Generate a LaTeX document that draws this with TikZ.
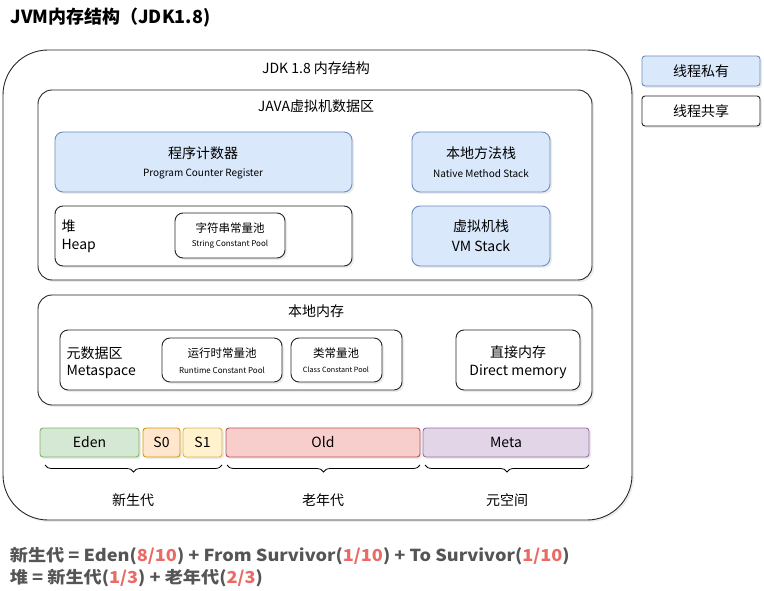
\documentclass[tikz,border=0pt]{standalone}
\usepackage{fontspec}
\setmainfont{Noto Sans CJK SC}
\usetikzlibrary{shadows,decorations.pathreplacing}
\definecolor{blueF}{HTML}{DAE8FC}\definecolor{blueD}{HTML}{6C8EBF}
\definecolor{grF}{HTML}{D5E8D4}\definecolor{grD}{HTML}{82B366}
\definecolor{orF}{HTML}{FFE6CC}\definecolor{orD}{HTML}{D79B00}
\definecolor{yeF}{HTML}{FFF2CC}\definecolor{yeD}{HTML}{D6B656}
\definecolor{reF}{HTML}{F8CECC}\definecolor{reD}{HTML}{B85450}
\definecolor{puF}{HTML}{E1D5E7}\definecolor{puD}{HTML}{9673A6}
\definecolor{txt}{HTML}{555555}\definecolor{hl}{HTML}{EA6B66}
\begin{document}
\begin{tikzpicture}[x=1pt,y=-1pt,
 box/.style={draw=black!85,line width=0.9pt,rounded corners=#1,fill=white,drop shadow={opacity=0.15,shadow xshift=2pt,shadow yshift=-2pt}},
 box/.default=8pt,
 bl/.style={box,fill=blueF,draw=blueD},
 bar/.style={rounded corners=3pt,line width=0.9pt,drop shadow={opacity=0.15,shadow xshift=2pt,shadow yshift=-2pt}},
 brc/.style={decorate,decoration={brace,mirror,amplitude=7pt},line width=0.8pt},
 t/.style={font=\fontsize{14}{16}\selectfont},
 s/.style={font=\fontsize{10}{12}\selectfont},
 fm/.style={anchor=west,font=\fontsize{16.5}{18}\selectfont\bfseries,text=txt,xscale=1.1}]
\useasboundingbox (0,0) rectangle (764,591);
\node[anchor=west,font=\fontsize{18}{20}\selectfont\bfseries] (title) at (7,18) {JVM内存结构（JDK1.8)};
\draw[box=45pt] (3,50) rectangle (632,520);
\node[t] (jdk) at (316,68) {JDK 1.8 内存结构};
\draw[box=14pt] (38,90) rectangle (592,280);
\node[t] (java) at (316,106) {JAVA虚拟机数据区};
\draw[bl] (55,132) rectangle (352,192);
\node[t] (pc) at (203,153) {程序计数器};
\node[s] (pce) at (203,174) {Program Counter Register};
\draw[bl] (412,132) rectangle (550,192);
\node[t] (nm) at (481,153) {本地方法栈};
\node[s] (nme) at (481,174) {Native Method Stack};
\draw[box] (55,206) rectangle (352,266);
\node[t,anchor=west] (heap) at (58,226) {堆};
\node[t,anchor=west] (heape) at (58,246) {Heap};
\draw[box] (175,213) rectangle (285,258);
\node[font=\fontsize{11.5}{13}\selectfont] (sp) at (230,228) {字符串常量池};
\node[font=\fontsize{8}{10}\selectfont] (spe) at (230,244) {String Constant Pool};
\draw[bl] (412,206) rectangle (550,266);
\node[t] (vm) at (481,226) {虚拟机栈};
\node[t] (vme) at (481,246) {VM Stack};
\draw[box=14pt] (38,295) rectangle (592,405);
\node[t] (nat) at (316,311) {本地内存};
\draw[box] (60,330) rectangle (402,390);
\node[t,anchor=west] (ms) at (63,353) {元数据区};
\node[t,anchor=west] (mse) at (63,372) {Metaspace};
\draw[box] (162,338) rectangle (282,382);
\node[font=\fontsize{11.5}{13}\selectfont] (rp) at (222,353) {运行时常量池};
\node[font=\fontsize{8}{10}\selectfont] (rpe) at (222,370) {Runtime Constant Pool};
\draw[box] (291,338) rectangle (382,382);
\node[font=\fontsize{11.5}{13}\selectfont] (cp) at (336,353) {类常量池};
\node[font=\fontsize{7.2}{9}\selectfont] (cpe) at (336,370) {Class Constant Pool};
\draw[box] (456,330) rectangle (580,390);
\node[t] (dm) at (518,352) {直接内存};
\node[t] (dme) at (518,372) {Direct memory};
\draw[bar,fill=grF,draw=grD] (40,428) rectangle (139,457);
\node[t] (eden) at (89.5,442.5) {Eden};
\draw[bar,fill=orF,draw=orD] (143,428) rectangle (180,457);
\node[t] (s0) at (161.5,442.5) {S0};
\draw[bar,fill=yeF,draw=yeD] (183,428) rectangle (222,457);
\node[t] (s1) at (202.5,442.5) {S1};
\draw[bar,fill=reF,draw=reD] (226,428) rectangle (420,457);
\node[t] (old) at (323,442.5) {Old};
\draw[bar,fill=puF,draw=puD] (423,428) rectangle (589,457);
\node[t] (meta) at (506,442.5) {Meta};
\draw[brc] (45,465) -- (222,465);
\draw[brc] (227,465) -- (420,465);
\draw[brc] (425,465) -- (589,465);
\node[t] (yg) at (133,500) {新生代};
\node[t] (og) at (323,500) {老年代};
\node[t] (mg) at (507,500) {元空间};
\draw[bl,rounded corners=3pt] (642,56) rectangle (760,86);
\node[t] (lp) at (701,71) {线程私有};
\draw[box,rounded corners=3pt] (642,96) rectangle (760,126);
\node[t] (ls) at (701,111) {线程共享};
\node[fm] (f1) at (6,556) {新生代 = Eden(\textcolor{hl}{8/10}) + From Survivor(\textcolor{hl}{1/10}) + To Survivor(\textcolor{hl}{1/10})};
\node[fm] (f2) at (6,578) {堆 = 新生代(\textcolor{hl}{1/3}) + 老年代(\textcolor{hl}{2/3})};
\end{tikzpicture}
\end{document}
